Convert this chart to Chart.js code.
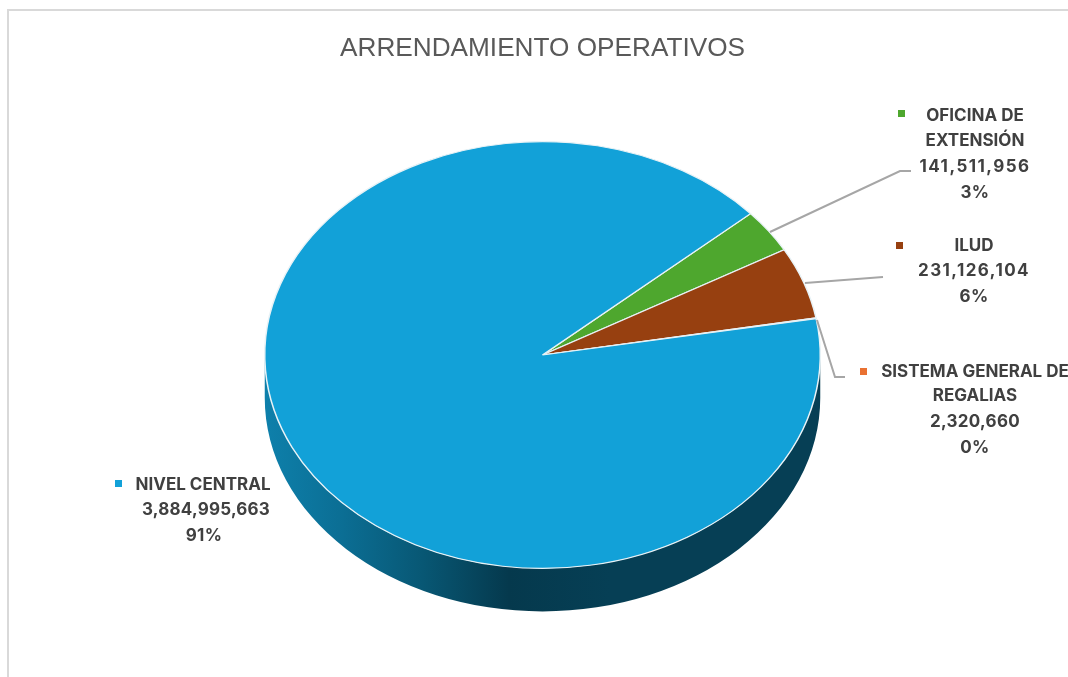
<!DOCTYPE html>
<html>
<head>
<meta charset="utf-8">
<style>html,body{margin:0;padding:0;background:#fff;overflow:hidden}canvas{display:block}</style>
<script src="https://cdn.jsdelivr.net/npm/chart.js@4"></script>
</head>
<body>
<canvas id="c" width="1068" height="677"></canvas>
<script>
const titleText = 'ARRENDAMIENTO OPERATIVOS';
const categories = ['OFICINA DE EXTENSIÓN', 'ILUD', 'SISTEMA GENERAL DE REGALIAS', 'NIVEL CENTRAL'];
const nameLines = [['OFICINA DE', 'EXTENSIÓN'], ['ILUD'], ['SISTEMA GENERAL DE', 'REGALIAS'], ['NIVEL CENTRAL']];
const values = [141511956, 231126104, 2320660, 3884995663];
const percents = ['3%', '6%', '0%', '91%'];
const colors = ['#4EA72E', '#974010', '#E97132', '#12A1D8'];

const startAngle = 48.5, squash = 214 / 278.5, depth = 43;
const ink = '#404040', leader = '#A6A6A6';
const labelFont = '700 17px Inter, "Liberation Sans", sans-serif';

// label layout: centre x per block, centre y per line, marker corner, leader polyline, number width
const layout = [
  {cx: 975, ys: [116, 141, 167, 193], marker: [898, 110], line: [[770, 232], [900, 171], [911, 171]], numW: 111},
  {cx: 974, ys: [246, 271, 297], marker: [896, 242], line: [[805, 283], [883, 277]], numW: 112},
  {cx: 975, ys: [372, 396, 422, 448], marker: [860, 368], line: [[817, 320], [835, 377], [845, 377]], numW: 90},
  {cx: 204, ys: [485, 510, 536], marker: [115, 480], line: null, nameCx: 203, numCx: 206, numW: 128}
];

const pie3d = {
  id: 'pie3d',
  beforeDraw(chart) {
    const c = chart.ctx;
    c.save();
    c.fillStyle = '#D9D9D9';
    c.fillRect(7, 9, 1061, 2);
    c.fillRect(7, 9, 2, 668);
    c.restore();
  },
  beforeDatasetsDraw(chart) {
    const c = chart.ctx, arc = chart.getDatasetMeta(0).data[0];
    const x = arc.x, y = arc.y, rx = arc.outerRadius, ry = rx * squash;
    // side wall
    c.save();
    const g = c.createLinearGradient(x - rx, 0, x + rx, 0);
    g.addColorStop(0, '#0E80AB');
    g.addColorStop(0.14, '#0B6E94');
    g.addColorStop(0.28, '#085875');
    g.addColorStop(0.44, '#05394D');
    g.addColorStop(0.62, '#063F55');
    g.addColorStop(1, '#063F55');
    c.fillStyle = g;
    c.beginPath();
    c.ellipse(x, y, rx, ry, 0, 0, Math.PI);
    c.ellipse(x, y + depth, rx, ry, 0, Math.PI, 0, true);
    c.closePath();
    c.fill();
    c.restore();
    // squash the pie into its perspective ellipse
    c.save();
    c.translate(0, y);
    c.scale(1, squash);
    c.translate(0, -y);
  },
  afterDatasetsDraw(chart) {
    const c = chart.ctx;
    c.restore();
    c.save();
    c.textAlign = 'center';
    c.textBaseline = 'middle';
    categories.forEach((_, i) => {
      const l = layout[i];
      c.fillStyle = colors[i];
      c.fillRect(l.marker[0], l.marker[1], 7, 7);
      if (l.line) {
        c.strokeStyle = leader;
        c.lineWidth = 2;
        c.beginPath();
        l.line.forEach((p, k) => k ? c.lineTo(p[0], p[1]) : c.moveTo(p[0], p[1]));
        c.stroke();
      }
      c.fillStyle = ink;
      c.font = labelFont;
      const lines = [...nameLines[i], values[i].toLocaleString('en-US'), percents[i]];
      lines.forEach((t, k) => {
        const isNum = k === nameLines[i].length;
        const cx = (k === 0 && l.nameCx) || (isNum && l.numCx) || l.cx;
        c.letterSpacing = '0px';
        if (isNum) c.letterSpacing = ((l.numW - c.measureText(t).width) / t.length).toFixed(2) + 'px';
        else if (k > nameLines[i].length) c.letterSpacing = '0.3px';
        c.fillText(t, cx, l.ys[k]);
      });
    });
    c.restore();
  }
};

new Chart(document.getElementById('c'), {
  type: 'pie',
  data: {
    labels: categories,
    datasets: [{
      data: values,
      backgroundColor: colors,
      borderColor: '#E8F2F6',
      borderWidth: 1.5,
      clip: false
    }]
  },
  plugins: [pie3d],
  options: {
    responsive: false,
    animation: false,
    rotation: startAngle,
    events: [],
    layout: {padding: {left: 264, right: 247, top: 33, bottom: 43.5}},
    plugins: {
      legend: {display: false},
      tooltip: {enabled: false},
      title: {
        display: true,
        text: titleText,
        fullSize: false,
        color: '#595959',
        font: {family: '"Liberation Sans", sans-serif', size: 26.2, weight: 'normal', lineHeight: 1.2},
        padding: {top: 0, bottom: 12.06}
      }
    }
  }
});
</script>
</body>
</html>
